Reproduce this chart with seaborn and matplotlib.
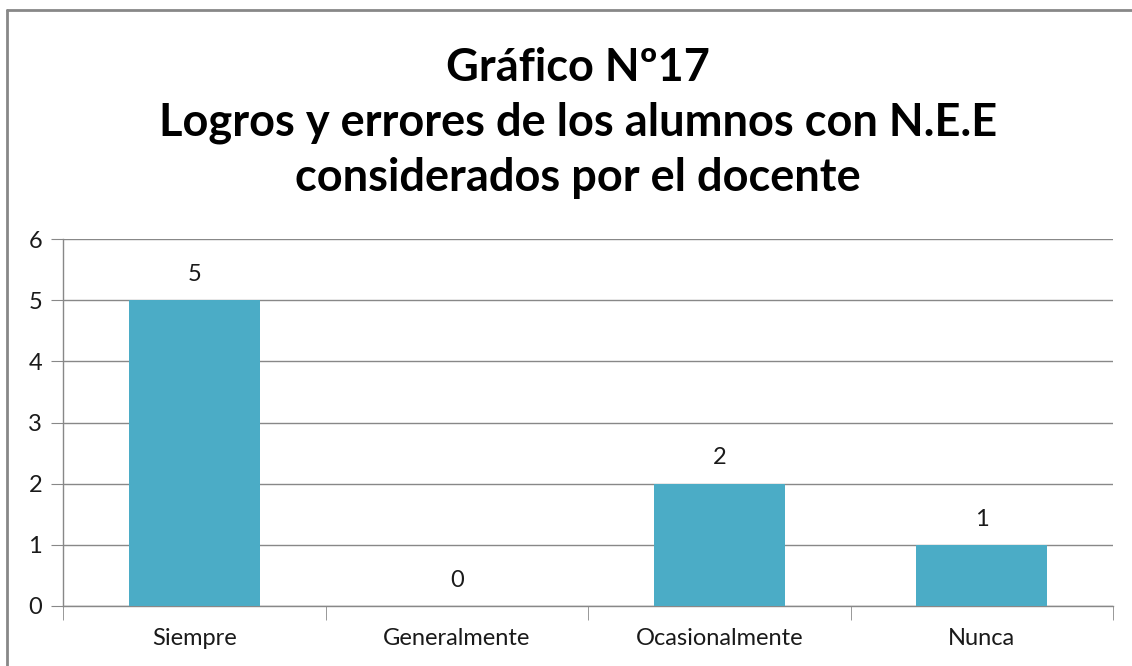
import seaborn as sns
import pandas as pd
from matplotlib import pyplot as plt
from matplotlib.lines import Line2D

CATEGORIES = ['Siempre', 'Generalmente', 'Ocasionalmente', 'Nunca']
VALUES = [5, 0, 2, 1]
TITLE = 'Gráfico Nº17\nLogros y errores de los alumnos con N.E.E\nconsiderados por el docente'
Y_TICKS = [0, 1, 2, 3, 4, 5, 6]

BAR_COLOR = '#4BACC6'
GRID_COLOR = '#888888'
TXT_COLOR = '#1a1a1a'

data_pd = pd.DataFrame({'cat': CATEGORIES, 'val': VALUES})

sns.set_style('white')
plt.rcParams['font.family'] = ['Lato', 'DejaVu Sans']

fig = plt.figure(figsize=(11.32, 6.66), dpi=100)
ax = fig.add_axes([63 / 1132, 60 / 666, 1050 / 1132, 367 / 666])

sns.barplot(data=data_pd, x='cat', y='val', color=BAR_COLOR, width=0.5,
            saturation=1, linewidth=0, ax=ax, zorder=3)

# value labels above bars
for i, v in enumerate(VALUES):
    ax.text(i, v + 0.42, str(v), ha='center', va='center', fontsize=17, color=TXT_COLOR)

ax.set_ylim(0, 6)
ax.set_xlim(-0.5, len(CATEGORIES) - 0.5)
ax.set_yticks(Y_TICKS)
ax.yaxis.grid(True, color=GRID_COLOR, linewidth=1, zorder=0)
ax.set_axisbelow(True)
ax.set_xlabel('')
ax.set_ylabel('')

for side in ['top', 'right']:
    ax.spines[side].set_visible(False)
for side in ['left', 'bottom']:
    ax.spines[side].set_color(GRID_COLOR)
    ax.spines[side].set_linewidth(1)

# y ticks outward, x ticks between categories
ax.tick_params(axis='y', direction='out', length=9, color=GRID_COLOR, left=True,
               labelsize=17, pad=6, labelcolor=TXT_COLOR)
ax.set_xticks(range(len(CATEGORIES)))
ax.set_xticklabels(CATEGORIES)
ax.tick_params(axis='x', length=0, labelsize=17, pad=16, labelcolor=TXT_COLOR)
ax.set_xticks([i - 0.5 for i in range(len(CATEGORIES) + 1)], minor=True)
ax.tick_params(axis='x', which='minor', direction='out', length=10, color=GRID_COLOR,
               bottom=True)

fig.text(578 / 1132, 1 - 123 / 666, TITLE, ha='center', va='center',
         fontsize=32.5, fontweight='bold', linespacing=1.37, color='black')

# chart frame border (top and left visible)
fig.add_artist(Line2D([7 / 1132, 7 / 1132], [0, 1 - 10 / 666], color='#888888', linewidth=2))
fig.add_artist(Line2D([7 / 1132, 1], [1 - 10 / 666, 1 - 10 / 666], color='#888888', linewidth=2))

plt.savefig('out.png', dpi=100)
